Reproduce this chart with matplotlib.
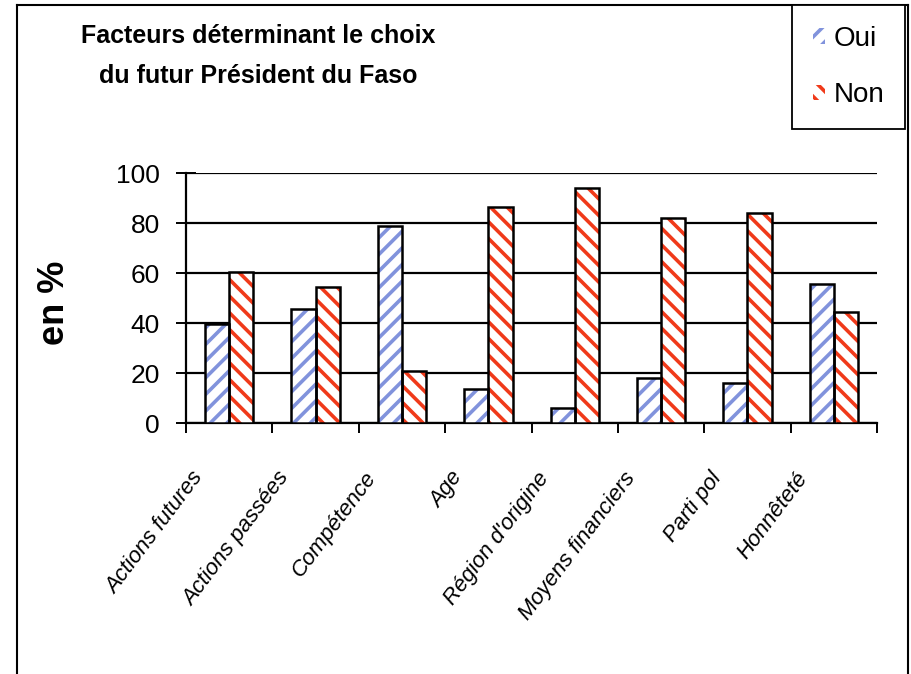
import matplotlib
matplotlib.use("Agg")
import matplotlib.pyplot as plt
import numpy as np
from matplotlib.patches import Patch

categories = ["Actions futures", "Actions passées", "Compétence", "Age",
              "Région d'origine", "Moyens financiers", "Parti pol", "Honnêteté"]
oui = [39.5, 45.5, 79, 13.5, 6, 18, 16, 55.5]
non = [60.5, 54.5, 21, 86.5, 94, 82, 84, 44.5]
yticks = [0, 20, 40, 60, 80, 100]
title_text = "Facteurs déterminant le choix\ndu futur Président du Faso"
ylabel_text = "en %"
series_names = ["Oui", "Non"]

plt.rcParams['hatch.linewidth'] = 2.6
plt.rcParams['font.family'] = ['Liberation Sans', 'DejaVu Sans']

blue = "#8193dc"
red = "#f03a1a"

fig = plt.figure(figsize=(9.12, 6.74), dpi=100)
ax = fig.add_axes([0.204, 0.3724, 0.7576, 0.3709])

x = np.arange(len(categories)) + 0.5
w = 0.28
ax.bar(x - w / 2, oui, w, color="white", edgecolor=blue, hatch="//", linewidth=0, zorder=3)
ax.bar(x - w / 2, oui, w, fill=False, edgecolor="black", linewidth=1.8, zorder=4)
ax.bar(x + w / 2, non, w, color="white", edgecolor=red, hatch="\\\\", linewidth=0, zorder=3)
ax.bar(x + w / 2, non, w, fill=False, edgecolor="black", linewidth=1.8, zorder=4)

ax.set_xlim(0, len(categories))
ax.set_ylim(0, 100)
ax.set_yticks(yticks)
ax.set_yticklabels([str(v) for v in yticks], fontsize=19)
ax.yaxis.grid(True, color="black", linewidth=1.6, zorder=1)
ax.set_axisbelow(True)
ax.tick_params(axis='y', direction='inout', length=14, width=1.4, pad=12)
ax.set_xticks(np.arange(len(categories) + 1))
ax.set_xticklabels([])
ax.tick_params(axis='x', direction='out', length=7, width=1.4)
for s in ["top", "right"]:
    ax.spines[s].set_visible(False)
ax.spines["left"].set_linewidth(1.6)
ax.spines["bottom"].set_linewidth(1.6)

for xi, lab in zip(x, categories):
    ax.text(xi - 0.25, -18, lab, rotation=53, ha="right", va="top",
            fontsize=16, fontstyle="italic", transform=ax.transData, clip_on=False)

fig.text(258 / 912, 1 - 56 / 674, title_text, ha="center", va="center",
         fontsize=18, fontweight="bold", linespacing=1.8)
fig.text(55 / 912, 1 - 303 / 674, ylabel_text, rotation=90, ha="center", va="center",
         fontsize=26, fontweight="bold")

# figure frame
fig.add_artist(plt.Line2D([17 / 912, 17 / 912], [0, 1 - 5 / 674], transform=fig.transFigure, color="black", lw=1.5))
fig.add_artist(plt.Line2D([17 / 912, 908 / 912], [1 - 5 / 674, 1 - 5 / 674], transform=fig.transFigure, color="black", lw=1.5))
fig.add_artist(plt.Line2D([908 / 912, 908 / 912], [0, 1 - 5 / 674], transform=fig.transFigure, color="black", lw=1.5))

handles = [Patch(facecolor="white", edgecolor=blue, hatch="//", linewidth=0),
           Patch(facecolor="white", edgecolor=red, hatch="\\\\", linewidth=0)]
leg = fig.legend(handles, series_names, loc="upper right", bbox_to_anchor=(905 / 912, 1 - 5 / 674),
                 frameon=True, fancybox=False, edgecolor="black", framealpha=1,
                 prop={"size": 20}, handlelength=0.45, handleheight=0.5,
                 handletextpad=0.3, labelspacing=1.1, borderpad=0.75, borderaxespad=0)
leg.get_frame().set_linewidth(1.3)

fig.savefig("out.png", dpi=100)
